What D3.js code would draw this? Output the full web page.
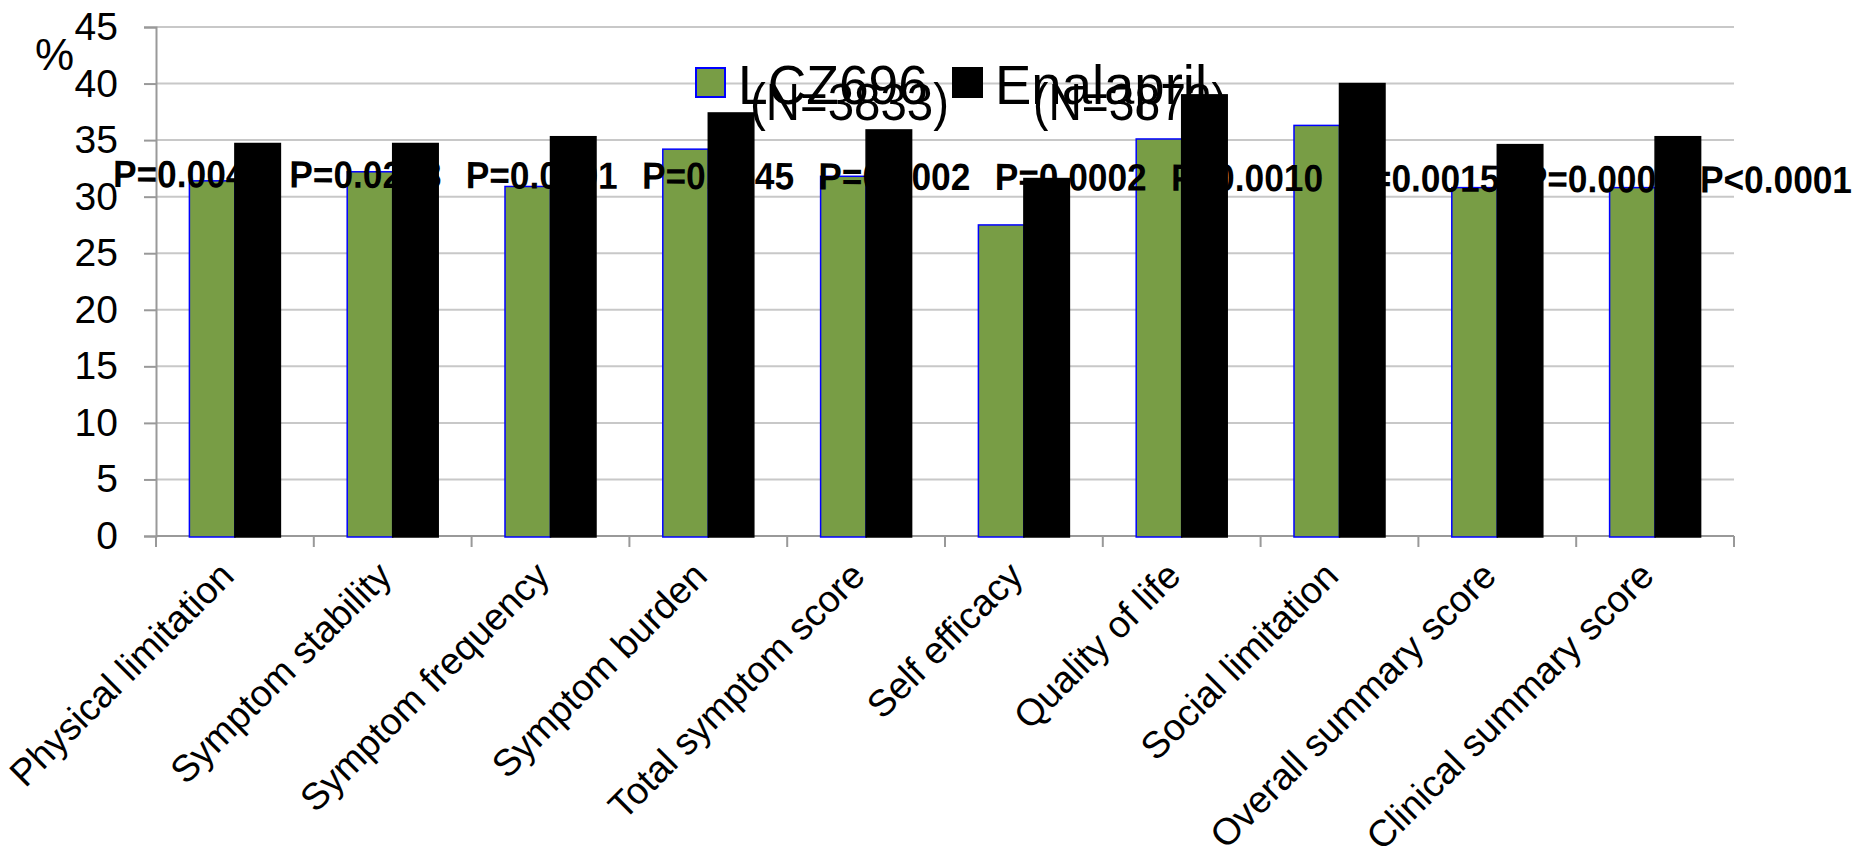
<!DOCTYPE html>
<html>
<head>
<meta charset="utf-8">
<script src="https://cdn.jsdelivr.net/npm/d3@7"></script>
<style>
  html, body { margin: 0; padding: 0; background: #fff; }
  svg { display: block; font-family: "Liberation Sans", Arial, sans-serif; }
</style>
</head>
<body>
<svg id="chart" width="1872" height="855"></svg>
<script>
// KCCQ domains: share of patients (%) in each treatment arm
const categories = [
  "Physical limitation", "Symptom stability", "Symptom frequency", "Symptom burden",
  "Total symptom score", "Self efficacy", "Quality of life", "Social limitation",
  "Overall summary score", "Clinical summary score"
];
const lczValues       = [31.4, 32.2, 30.9, 34.2, 31.8, 27.5, 35.1, 36.3, 30.8, 30.8];
const enalaprilValues = [34.7, 34.7, 35.3, 37.4, 35.9, 31.6, 39.0, 40.0, 34.6, 35.3];
const pLabels = [
  "P=0.0047", "P=0.0238", "P=0.0001", "P=0.0045", "P=0.0002",
  "P=0.0002", "P=0.0010", "P=0.0015", "P=0.0004", "P<0.0001"
];
const seriesNames = ["LCZ696", "Enalapril"];
const seriesCounts = ["(N=3833)", "(N=3873)"];
const yTicks = [0, 5, 10, 15, 20, 25, 30, 35, 40, 45];

const seriesColors = ["#789d45", "#000000"];
const seriesStrokes = ["#0000ff", "#000000"];

const svg = d3.select("#chart");
const plot = { left: 156, right: 1734, top: 27, bottom: 536 };

const x0 = d3.scaleBand().domain(categories).range([plot.left, plot.right]).padding(0);
const x1 = d3.scaleBand().domain([0, 1]).range([0, x0.bandwidth()]).paddingInner(0).paddingOuter(0.734);
const y = d3.scaleLinear().domain([0, 45]).range([plot.bottom, plot.top]);

// horizontal gridlines
svg.append("g")
  .selectAll("line")
  .data(yTicks.filter(t => t > 0))
  .join("line")
  .attr("x1", plot.left).attr("x2", plot.right)
  .attr("y1", d => y(d)).attr("y2", d => y(d))
  .attr("stroke", "#c8c8c8").attr("stroke-width", 2);

// y axis
const yAxis = svg.append("g")
  .attr("transform", `translate(${plot.left},0)`)
  .call(d3.axisLeft(y).tickValues(yTicks).tickSize(12).tickPadding(26).tickFormat(d3.format("d")));
yAxis.select(".domain").attr("stroke", "#999").attr("stroke-width", 2);
yAxis.selectAll(".tick line").attr("stroke", "#999").attr("stroke-width", 2);
yAxis.selectAll(".tick text")
  .attr("font-size", 39).attr("fill", "#000")
  .attr("font-family", "'Liberation Sans', Arial, sans-serif");

// x axis with ticks at category boundaries
const xAxis = svg.append("g").attr("transform", `translate(0,${plot.bottom})`);
xAxis.append("line")
  .attr("x1", plot.left).attr("x2", plot.right)
  .attr("stroke", "#999").attr("stroke-width", 2);
xAxis.selectAll("line.tk")
  .data(categories.map(c => x0(c)).concat([plot.right]))
  .join("line").attr("class", "tk")
  .attr("x1", d => d).attr("x2", d => d)
  .attr("y1", 0).attr("y2", 11)
  .attr("stroke", "#999").attr("stroke-width", 2);

// rotated category labels
svg.append("g")
  .selectAll("text")
  .data(categories)
  .join("text")
  .attr("transform", d => `translate(${x0(d) + x0.bandwidth() / 2 + 1},${plot.bottom + 42}) rotate(-45)`)
  .attr("text-anchor", "end")
  .attr("font-size", 37.5)
  .attr("fill", "#000")
  .text(d => d);

// bars
const rows = categories.map((c, i) => ({ cat: c, vals: [lczValues[i], enalaprilValues[i]] }));
const groups = svg.append("g")
  .selectAll("g")
  .data(rows)
  .join("g")
  .attr("transform", d => `translate(${x0(d.cat)},0)`);
groups.selectAll("rect")
  .data(d => d.vals.map((v, k) => ({ k, v })))
  .join("rect")
  .attr("x", d => x1(d.k))
  .attr("width", x1.bandwidth())
  .attr("y", d => y(d.v))
  .attr("height", d => y(0) - y(d.v) + 1)
  .attr("fill", d => seriesColors[d.k])
  .attr("stroke", d => seriesStrokes[d.k])
  .attr("stroke-width", 1.5);

// significance labels, one per domain
const pScale = d3.scalePoint().domain(d3.range(pLabels.length)).range([113, 1700]);
svg.append("g")
  .attr("transform", "rotate(0.2,113,187)")
  .selectAll("text")
  .data(pLabels)
  .join("text")
  .attr("x", (d, i) => pScale(i))
  .attr("y", 187)
  .attr("font-size", 38)
  .attr("font-weight", "bold")
  .attr("textLength", 152)
  .attr("lengthAdjust", "spacingAndGlyphs")
  .attr("fill", "#000")
  .text(d => d);

// y unit
svg.append("text").attr("x", 35).attr("y", 70).attr("font-size", 44).attr("fill", "#000").text("%");

// legend
const legendX = [696, 953];
const legend = svg.append("g")
  .selectAll("g")
  .data(seriesNames.map((n, k) => ({ n, k })))
  .join("g")
  .attr("transform", d => `translate(${legendX[d.k]},68)`);
legend.append("rect")
  .attr("width", 29).attr("height", 29)
  .attr("fill", d => seriesColors[d.k])
  .attr("stroke", d => seriesStrokes[d.k])
  .attr("stroke-width", 2);
legend.append("text")
  .attr("x", 42).attr("y", 36)
  .attr("font-size", 55)
  .attr("textLength", d => d.k === 0 ? 190 : 212)
  .attr("lengthAdjust", "spacingAndGlyphs")
  .attr("fill", "#000")
  .text(d => d.n);
legend.append("text")
  .attr("x", d => d.k === 0 ? 54 : 80).attr("y", 52)
  .attr("font-size", 51)
  .attr("textLength", d => d.k === 0 ? 199 : 194)
  .attr("lengthAdjust", "spacingAndGlyphs")
  .attr("fill", "#000")
  .text(d => seriesCounts[d.k]);
</script>
</body>
</html>
